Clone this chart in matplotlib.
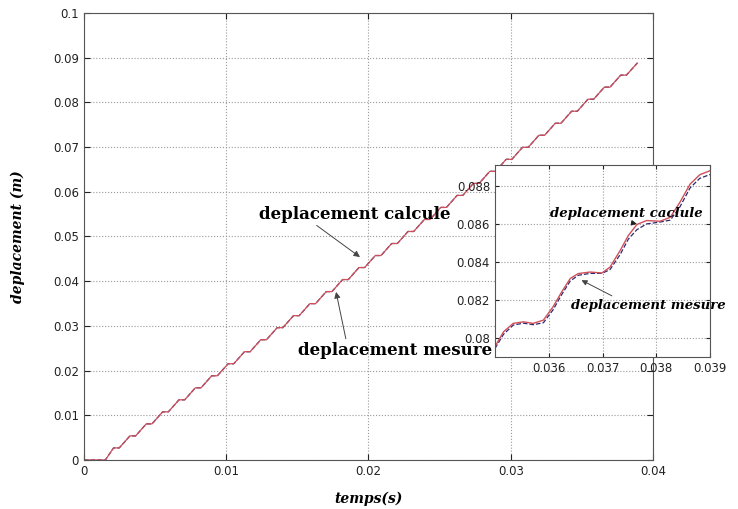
import numpy as np
import matplotlib.pyplot as plt
from matplotlib.ticker import FormatStrFormatter

# plateaux of the staircase displacement (main view)
plateau_t = [0.00228, 0.00343, 0.00458, 0.00573, 0.00688, 0.00803, 0.00918, 0.01033,
             0.01148, 0.01263, 0.01378, 0.01493, 0.01608, 0.01723, 0.01838, 0.01953,
             0.02068, 0.02183, 0.02298, 0.02413, 0.02528, 0.02643, 0.02758, 0.02873,
             0.02988, 0.03103, 0.03218, 0.03333, 0.03448, 0.03563, 0.03678, 0.03793]
plateau_y = [0.00270, 0.00539, 0.00808, 0.01077, 0.01346, 0.01615, 0.01884, 0.02153,
             0.02422, 0.02691, 0.02960, 0.03229, 0.03498, 0.03767, 0.04036, 0.04305,
             0.04574, 0.04843, 0.05112, 0.05381, 0.05650, 0.05919, 0.06188, 0.06457,
             0.06726, 0.06995, 0.07264, 0.07533, 0.07802, 0.08071, 0.08340, 0.08609]
t_start = 0.0015      # debut du mouvement
t_end, y_end = 0.0389, 0.0888

# zoom 0.035 - 0.039
zoom_t = [0.03500, 0.03516, 0.03534, 0.03553, 0.03571, 0.03590, 0.03608, 0.03624,
          0.03640, 0.03655, 0.03677, 0.03699, 0.03714, 0.03733, 0.03748, 0.03764,
          0.03782, 0.03807, 0.03826, 0.03844, 0.03863, 0.03881, 0.03900]
zoom_calc = [0.07955, 0.08033, 0.08077, 0.08085, 0.08077, 0.08094, 0.08164, 0.08242,
             0.08313, 0.08339, 0.08347, 0.08342, 0.08373, 0.08461, 0.08539, 0.08597,
             0.08618, 0.08614, 0.08635, 0.08714, 0.08810, 0.08859, 0.08880]
zoom_mes = [0.07945, 0.08020, 0.08068, 0.08078, 0.08070, 0.08080, 0.08148, 0.08228,
            0.08300, 0.08330, 0.08340, 0.08340, 0.08360, 0.08440, 0.08520, 0.08570,
            0.08600, 0.08610, 0.08620, 0.08690, 0.08790, 0.08840, 0.08860]

half_w = 0.0002
t_main = [0.0, t_start]
y_main = [0.0, 0.0]
for c, y in zip(plateau_t, plateau_y):
    t_main += [c - half_w, c + half_w]
    y_main += [y, y]
t_main.append(t_end)
y_main.append(y_end)

red = '#d0505a'
blue = '#2a2a70'
spine_c = '#555555'
label_font = dict(family='DejaVu Serif', weight='bold', style='italic')

fig = plt.figure(figsize=(7.38, 5.09), dpi=100)
ax = fig.add_axes([0.1138, 0.0963, 0.7710, 0.8782])
ax.plot(t_main, y_main, color=blue, lw=0.9, ls='--')
ax.plot(t_main, y_main, color=red, lw=0.9)
ax.set_xlim(0, 0.04)
ax.set_ylim(0, 0.1)
ax.set_xticks(np.arange(0, 0.041, 0.01))
ax.set_yticks(np.arange(0, 0.101, 0.01))
ax.xaxis.set_major_formatter(FormatStrFormatter('%g'))
ax.yaxis.set_major_formatter(FormatStrFormatter('%g'))
ax.grid(True, ls=':', color='#999999', lw=0.8)
ax.tick_params(direction='in', top=True, right=True, labelsize=8.5, colors='#222222', length=4)
for s in ax.spines.values():
    s.set_color(spine_c)
ax.set_xlabel('temps(s)', fontsize=10, labelpad=10, **label_font)
ax.set_ylabel('deplacement (m)', fontsize=10, labelpad=20, **label_font)

ax.annotate('deplacement calcule', xy=(0.0194, 0.0454), xytext=(0.01905, 0.0550),
            ha='center', va='center', fontsize=12, family='DejaVu Serif', weight='bold',
            arrowprops=dict(arrowstyle='-|>', color='#444444', lw=0.7,
                            shrinkA=0, shrinkB=0, mutation_scale=9,
                            relpos=(0.28, 0.0)))
ax.annotate('deplacement mesure', xy=(0.01772, 0.0376), xytext=(0.02186, 0.0246),
            ha='center', va='center', fontsize=12, family='DejaVu Serif', weight='bold',
            arrowprops=dict(arrowstyle='-|>', color='#444444', lw=0.7,
                            shrinkA=0, shrinkB=0, mutation_scale=9,
                            relpos=(0.25, 1.0)))

# encart
ins = fig.add_axes([0.6707, 0.2986, 0.2914, 0.3772])
ins.plot(zoom_t, zoom_mes, color=blue, lw=0.9, ls='--')
ins.plot(zoom_t, zoom_calc, color=red, lw=1.0)
ins.set_xlim(0.035, 0.039)
ins.set_ylim(0.079, 0.0891)
ins.set_xticks([0.036, 0.037, 0.038, 0.039])
ins.set_yticks([0.080, 0.082, 0.084, 0.086, 0.088])
ins.xaxis.set_major_formatter(FormatStrFormatter('%g'))
ins.yaxis.set_major_formatter(FormatStrFormatter('%g'))
ins.grid(True, ls=':', color='#999999', lw=0.8)
ins.tick_params(direction='in', top=True, right=True, labelsize=8.5, colors='#222222', length=3)
for s in ins.spines.values():
    s.set_color(spine_c)

ins.annotate('deplacement caclule', xy=(0.03764, 0.08600), xytext=(0.03744, 0.08654),
             ha='center', va='center', fontsize=9.5, **label_font,
             arrowprops=dict(arrowstyle='-|>', color='#222222', lw=0.7,
                             shrinkA=0, shrinkB=0, mutation_scale=8, relpos=(0.45, 0.0)))
ins.annotate('deplacement mesure', xy=(0.03661, 0.08304), xytext=(0.03785, 0.08173),
             ha='center', va='center', fontsize=9.5, **label_font, annotation_clip=False,
             arrowprops=dict(arrowstyle='-|>', color='#444444', lw=0.7,
                             shrinkA=0, shrinkB=0, mutation_scale=8, relpos=(0.3, 1.0)))

fig.savefig('out.png', dpi=100)
